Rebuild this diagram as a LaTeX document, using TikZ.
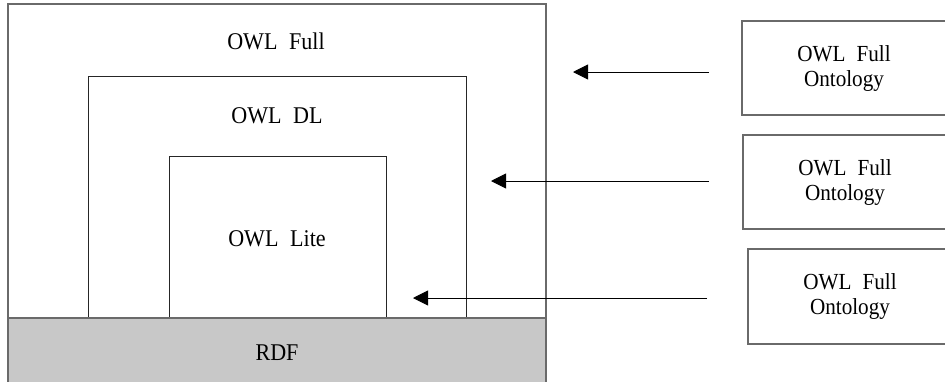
\documentclass[tikz,border=0pt]{standalone}
\usepackage{fontspec}
\setmainfont{Liberation Serif}[WordSpace=2.1, FakeStretch=0.92]
\usetikzlibrary{arrows.meta}
\definecolor{edgegray}{HTML}{6A6A6A}
\definecolor{rdfgray}{HTML}{C8C8C8}
\tikzset{
  frame/.style={draw=edgegray, line width=1.5pt, inner sep=0pt, outer sep=0pt, anchor=north west},
  inner/.style={draw=black!85, line width=1pt, inner sep=0pt, outer sep=0pt, anchor=north west},
  lbl/.style={font=\fontsize{24}{25}\selectfont, inner sep=0pt, align=center},
  sidebox/.style={draw=edgegray, line width=1.2pt, inner sep=0pt, outer sep=0pt, anchor=north west,
    minimum width=204pt, align=center, font=\fontsize{23}{25}\selectfont},
  pointer/.style={draw=black, line width=0.9pt, -{Triangle[length=15pt,width=15pt]}}
}
\begin{document}
\begin{tikzpicture}[x=1pt,y=-1pt]
\useasboundingbox (0,0) rectangle (945,381);
\begin{scope}
\clip (0,0) rectangle (945,381);
% RDF band
\node[frame, fill=rdfgray, minimum width=538pt, minimum height=72pt] (rdf) at (8,318) {};
% outer box (OWL Full)
\node[frame, minimum width=538pt, minimum height=386pt] (full) at (8,4) {};
% OWL DL box
\node[inner, minimum width=378pt, minimum height=242pt] (dl) at (88,76) {};
% OWL Lite box
\node[inner, minimum width=217pt, minimum height=162pt] (lite) at (169,156) {};
% redraw RDF top edge
\draw[draw=edgegray, line width=1.5pt] (rdf.north west) -- (rdf.north east);
% labels
\node[lbl] (tfull) at (276,41) {OWL Full};
\node[lbl] (tdl) at (277,116) {OWL DL};
\node[lbl] (tlite) at (277,239) {OWL Lite};
\node[lbl] (trdf) at (277,353) {RDF};
% side boxes
\node[sidebox, minimum height=94pt] (s1) at (742,21) {OWL Full\\Ontology};
\node[sidebox, minimum height=94pt] (s2) at (743,135) {OWL Full\\Ontology};
\node[sidebox, minimum height=95pt] (s3) at (748,249) {OWL Full\\Ontology};
% arrows
\coordinate (a1) at (709,72);
\coordinate (b1) at (573,72);
\coordinate (a2) at (709,181);
\coordinate (b2) at (491,181);
\coordinate (a3) at (707,298);
\coordinate (b3) at (413,298);
\draw[pointer] (a1) -- (b1);
\draw[pointer] (a2) -- (b2);
\draw[pointer] (a3) -- (b3);
\end{scope}
\end{tikzpicture}
\end{document}
